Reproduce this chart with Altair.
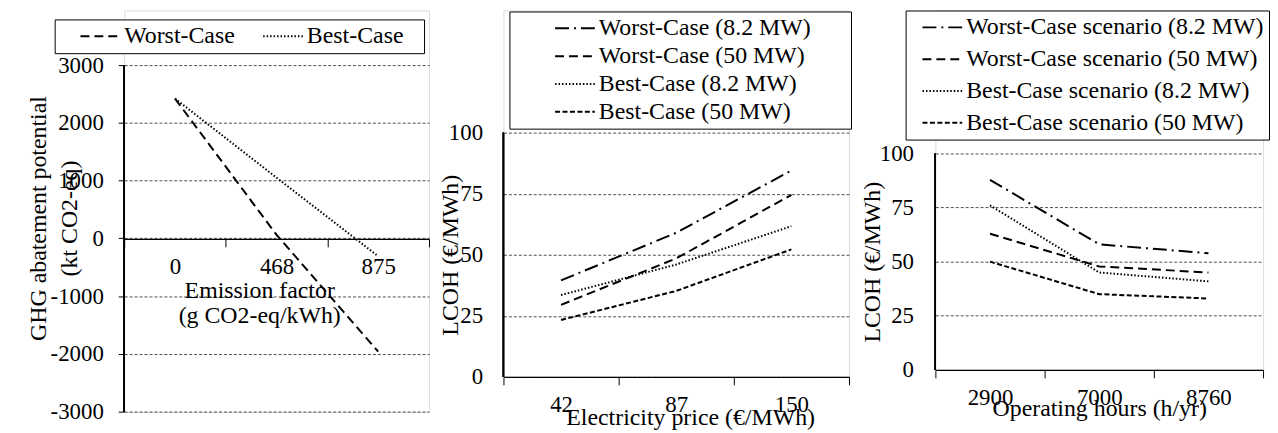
import altair as alt
import pandas as pd

FONT = "Times New Roman"
NB = "\u00a0"

# ---------------- Panel 1: GHG abatement vs emission factor ----------------
ef_cats = ["0", "468", "875"]
p1_series = ["Worst-Case", "Best-Case"]
ghg_worst = [2420, 60, -1960]
ghg_best = [2420, 1050, -310]
p1_dashes = [[9, 5], [1.5, 2]]

# ---------------- Panel 2: LCOH vs electricity price ----------------
price_cats = ["42", "87", "150"]
p2_series = ["Worst-Case (8.2 MW)", "Worst-Case (50 MW)",
             "Best-Case (8.2 MW)", "Best-Case (50 MW)"]
price_w82 = [39.5, 59, 84.5]
price_w50 = [29.5, 48.5, 74.5]
price_b82 = [33.5, 46, 61.7]
price_b50 = [23.3, 35.2, 52.2]

# ---------------- Panel 3: LCOH vs operating hours ----------------
hours_cats = ["2900", "7000", "8760"]
p3_series = ["Worst-Case scenario (8.2 MW)", "Worst-Case scenario (50 MW)",
             "Best-Case scenario (8.2 MW)", "Best-Case scenario (50 MW)"]
hours_w82 = [87.8, 58, 53.9]
hours_w50 = [62.9, 47.8, 45]
hours_b82 = [76, 45, 40.9]
hours_b50 = [50, 35, 33]

dashes4 = [[14, 5, 2, 5], [9, 5], [1.5, 2], [5, 2.5]]


def long_df(cats, series, values):
    rows = []
    for s, vals in zip(series, values):
        for c, v in zip(cats, vals):
            rows.append({"cat": c, "series": s, "value": v})
    return pd.DataFrame(rows)


df1 = long_df(ef_cats, p1_series, [ghg_worst, ghg_best])
df2 = long_df(price_cats, p2_series, [price_w82, price_w50, price_b82, price_b50])
df3 = long_df(hours_cats, p3_series, [hours_w82, hours_w50, hours_b82, hours_b50])

GRID = dict(grid=True, gridDash=[3, 2], gridColor="#222", gridWidth=0.8)


def make_legend(x, y, direction, left_gap, right_gap, row_pad, entry_gap=10):
    kw = dict(
        orient="none", legendX=x, legendY=y, direction=direction,
        symbolType="stroke", symbolSize=1600, symbolStrokeWidth=2,
        symbolStrokeColor="black", clipHeight=24,
        symbolOffset=left_gap - 5, labelOffset=3,
        labelFont=FONT, labelFontSize=24, labelColor="black",
        labelLimit=400,
        rowPadding=row_pad, columnPadding=max(entry_gap - (left_gap - 5), 0),
        padding=5, strokeColor="black", fillColor="white", cornerRadius=0,
    )
    if right_gap > 6:
        kw.update(title=NB, titleOrient="right", titleFontSize=24,
                  titleFont=FONT, titlePadding=right_gap - 5)
    else:
        kw.update(title=None)
    return alt.Legend(**kw)


def panel(df, cats, series, dashes, ymax, ymin, height, width, yvals,
          ytitle, ytitle_x, ytitle_y, ytitle_lh, ytick, ylabpad,
          xtitle, xtitle_x, xtitle_y, xoffset, legend, axis_lo, axis_hi):
    xenc = alt.X(
        "cat:N", sort=cats,
        scale=alt.Scale(type="band", paddingInner=0, paddingOuter=0),
        axis=alt.Axis(
            tickBand="extent", ticks=True, tickSize=8, tickColor="black",
            labelAngle=0, labelPadding=9, labelFontSize=23, labelFont=FONT,
            labelColor="black", labelBaseline="top",
            domainColor="black", domainWidth=1.2, offset=xoffset,
            title=xtitle, titleX=xtitle_x, titleY=xtitle_y,
            titleBaseline="top", titleAlign="center", titleAngle=0,
            titleFont=FONT, titleFontSize=24, titleFontWeight="normal",
            titleColor="black", titleLineHeight=25,
        ),
        bandPosition=0.5,
    )
    yscale = alt.Scale(domain=[ymin, ymax], nice=False, zero=False)
    yaxis = alt.Axis(
        values=yvals, labelExpr="'' + datum.value", domain=False,
        ticks=ytick > 0, tickSize=max(ytick, 1), tickColor="black",
        labelPadding=ylabpad, labelFontSize=23, labelFont=FONT,
        labelColor="black",
        title=ytitle, titleX=ytitle_x, titleY=ytitle_y, titleAngle=270,
        titleBaseline="middle", titleAlign="center",
        titleFont=FONT, titleFontSize=24, titleFontWeight="normal",
        titleColor="black", titleLineHeight=ytitle_lh,
        **GRID,
    )
    lines = alt.Chart(df).mark_line(strokeWidth=2, color="black").encode(
        x=xenc,
        y=alt.Y("value:Q", scale=yscale, axis=yaxis),
        strokeDash=alt.StrokeDash(
            "series:N",
            scale=alt.Scale(domain=series, range=dashes),
            legend=legend, sort=series,
        ),
    )
    yline = alt.Chart(df).mark_rule(color="black", strokeWidth=1.2).encode(
        x=alt.value(0),
        y=alt.datum(axis_hi),
        y2=alt.datum(axis_lo),
    )
    return alt.layer(yline, lines).properties(width=width, height=height)


p1 = panel(
    df1, ef_cats, p1_series, p1_dashes, 3945, -3000, 404, 307,
    [-3000, -2000, -1000, 0, 1000, 2000, 3000],
    ["GHG abatement potential", "(kt CO2-eq)"], -86, 209, 31, 6, 15,
    ["Emission factor", "(g CO2-eq/kWh)"], 136, 40, -174,
    make_legend(-70, 9, "horizontal", 25, 21, 0, 27), -3000, 3000,
)

p2 = panel(
    df2, price_cats, p2_series, dashes4, 150, 0, 369, 348,
    [0, 25, 50, 75, 100],
    "LCOH (€/MWh)", -53, 246, 25, 0, 21,
    "Electricity price (€/MWh)", 188, 29, 0,
    make_legend(6, 1, "vertical", 45, 41, 4), 0, 100,
)

p3 = panel(
    df3, hours_cats, p3_series, dashes4, 166, 0, 362, 330,
    [0, 25, 50, 75, 100],
    "LCOH (€/MWh)", -63, 253, 25, 0, 22,
    "Operating hours (h/yr)", 165, 27, 0,
    make_legend(-30, 0, "vertical", 16, 4, 8), 0, 100,
)

chart = alt.hconcat(p1, p2, p3, spacing=8, bounds="full").resolve_scale(
    x="independent", y="independent", strokeDash="independent"
).resolve_legend(strokeDash="independent").properties(
    padding={"left": 18, "top": 0, "right": 0, "bottom": 0}
).configure_view(stroke=None).configure(font=FONT, background="white")

chart.save("out.html", embed_options={"renderer": "svg", "actions": False})
